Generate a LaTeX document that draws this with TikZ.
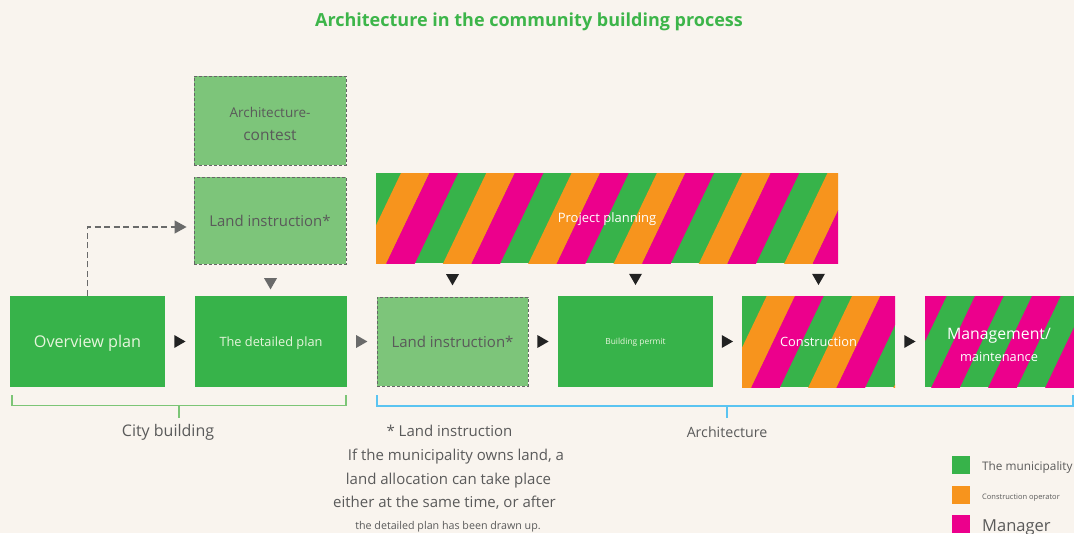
\documentclass[tikz,border=0pt]{standalone}
\usepackage{fontspec}
\setmainfont{Open Sans}
\usetikzlibrary{calc,shapes.geometric,arrows.meta}

\definecolor{bg}{HTML}{F9F4EE}
\definecolor{munigreen}{HTML}{37B34A}
\definecolor{lightgreen}{HTML}{7DC57A}
\definecolor{oporange}{HTML}{F7941D}
\definecolor{mgrmagenta}{HTML}{EC008C}
\definecolor{bordergray}{HTML}{666666}
\definecolor{textgray}{HTML}{5A5A5A}
\definecolor{paletext}{HTML}{E6F5DC}
\definecolor{titlegreen}{HTML}{3DB54A}
\definecolor{citygreen}{HTML}{7CC576}
\definecolor{archblue}{HTML}{5BC4F1}
\definecolor{markgray}{HTML}{6A6A6A}
\definecolor{markblack}{HTML}{222222}

% font size / baseline skip shortcut
\newcommand\fsz[2]{\fontsize{#1}{#2}\selectfont}
% slanted stripes of one colour inside a path picture
\newcommand\slantstripes[4]{%
  \foreach \k in {-1,...,#4}{%
    \fill[#1] ([xshift={((#2)+\k*(#3))*1pt}]path picture bounding box.north west)
      -- ++(28.6,0) -- ++(-45.4,95) -- ++(-28.6,0) -- cycle;}}

\begin{document}
\begin{tikzpicture}[x=1pt,y=-1pt,
  solidbox/.style={fill=munigreen, text=paletext, inner sep=0, align=center, text depth=0pt},
  dashbox/.style={fill=lightgreen, draw=bordergray, dash pattern=on 3pt off 2pt,
    line width=0.9pt, text=textgray, inner sep=0, align=center, text depth=0pt},
  stripebox/.style={fill=munigreen, text=white, inner sep=0, align=center, text depth=0pt},
  boxtext/.style={inner sep=0, align=center},
  marker/.style={regular polygon, regular polygon sides=3, fill=#1, inner sep=0,
    minimum size=15pt},
  rmark/.style={marker=#1, shape border rotate=-90, xshift=-2pt},
  dmark/.style={marker=#1, shape border rotate=180, yshift=2pt},
  dasharrow/.style={draw=markgray, line width=1.2pt, dash pattern=on 6pt off 3.5pt,
    -{Triangle[length=12pt,width=13pt]}},
  legendbox/.style={minimum size=18pt, inner sep=0},
  legendtext/.style={anchor=base west, text=textgray, inner sep=0},
  notetext/.style={anchor=base, text=textgray, inner sep=0},
  bracketlabel/.style={text=textgray, inner sep=0}
]
\clip (0,0) rectangle (1074,533);
\fill[bg] (0,0) rectangle (1074,533);

% title
\node[font=\bfseries\fsz{18}{21}, text=titlegreen] (title) at (529,22)
  {Architecture in the community building process};

% upper optional steps
\node[dashbox, minimum width=152, minimum height=89] (ac) at (270,120.5) {};
\node[boxtext, text=textgray, font=\fsz{15.5}{23}] (actext) at ($(ac)+(0,3.5)$)
  {{\fsz{13.5}{23}Architecture-}\\contest};
\node[dashbox, minimum width=152, minimum height=87, font=\fsz{14.9}{17}] (li1) at (270,220.5)
  {Land instruction*};

% project planning bar
\node[stripebox, minimum width=462, minimum height=90, font=\fsz{13}{15},
  path picture={\slantstripes{oporange}{25}{85.3}{6}\slantstripes{mgrmagenta}{53.5}{85.3}{6}}]
  (pp) at (607,218) {Project planning};

% main process row
\node[solidbox, minimum width=155, minimum height=91, font=\fsz{16.2}{19}] (ov) at (87.5,341.5)
  {Overview plan};
\node[solidbox, minimum width=152, minimum height=91, font=\fsz{12.8}{15}] (dp) at (271,341.5)
  {The detailed plan};
\node[dashbox, minimum width=151, minimum height=89, font=\fsz{15}{17}] (li2) at (452.5,341.5)
  {Land instruction*};
\node[solidbox, minimum width=155, minimum height=91, font=\fsz{8.4}{10}] (bp) at (635.5,341.5)
  {Building permit};
\node[stripebox, minimum width=153, minimum height=91, font=\fsz{12.8}{15},
  path picture={\slantstripes{oporange}{24.7}{85.3}{2}\slantstripes{mgrmagenta}{53}{85.3}{2}}]
  (cons) at (818.5,341.5) {Construction};
\node[stripebox, minimum width=154, minimum height=91,
  path picture={\slantstripes{mgrmagenta}{-7}{57}{3}}]
  (mg) at (1002,341.5) {};
\node[boxtext, text=white, font=\fsz{12.8}{22}] (mgtext) at ($(mg)+(-3,3.5)$)
  {{\fsz{15.8}{22}Management/}\\maintenance};

% markers between steps
\path (ov) -- node[rmark=markblack] {} (dp);
\path (dp) -- node[rmark=markgray] {} (li2);
\path (li2) -- node[rmark=markblack] {} (bp);
\path (bp) -- node[rmark=markblack] {} (cons);
\path (cons) -- node[rmark=markblack] {} (mg);
\path (li1) -- node[pos=0.62, dmark=markgray] {} (dp);
\path (pp.south -| li2.north) -- node[dmark=markblack] {} (li2.north);
\path (pp.south -| bp.north) -- node[dmark=markblack] {} (bp.north);
\path (pp.south -| cons.north) -- node[dmark=markblack] {} (cons.north);

% optional route from the overview plan
\coordinate (lientry) at ($(li1.west)+(-7,6.5)$);
\draw[dasharrow] (ov.north) |- (lientry);

% phase brackets
\draw[citygreen, line width=1.5pt] (12,395) -- (12,405.5) -- (346,405.5) -- (346,395);
\draw[citygreen, line width=1.5pt] (179,405.5) -- (179,418);
\draw[archblue, line width=1.5pt] (377,395) -- (377,406) -- (1073,406) -- (1073,395);
\draw[archblue, line width=1.5pt] (727,406) -- (727,418);
\node[bracketlabel, font=\fsz{16}{19}] (citylabel) at (168,432) {City building};
\node[bracketlabel, font=\fsz{14.2}{17}] (archlabel) at (727,432) {Architecture};

% footnote
\node[notetext, font=\fsz{15}{18}] (n1) at (449.5,436.5) {* Land instruction};
\node[notetext, font=\fsz{15}{18}] (n2) at (456,460.5) {If the municipality owns land, a};
\node[notetext, font=\fsz{15}{18}] (n3) at (448.5,484.5) {land allocation can take place};
\node[notetext, font=\fsz{15}{18}] (n4) at (444.5,507.5) {either at the same time, or after};
\node[notetext, font=\fsz{10.7}{13}] (n5) at (448,529.5) {the detailed plan has been drawn up.};

% legend
\node[legendbox, fill=munigreen] (lg1) at (961,465) {};
\node[legendbox, fill=oporange] (lg2) at (961,495) {};
\node[legendbox, fill=mgrmagenta] (lg3) at (961,524) {};
\node[legendtext, font=\fsz{11.8}{14}] (lt1) at (982,470) {The municipality};
\node[legendtext, font=\fsz{7.5}{9}] (lt2) at (982,499.5) {Construction operator};
\node[legendtext, font=\fsz{16.5}{19}] (lt3) at (982,531.5) {Manager};
\end{tikzpicture}
\end{document}
